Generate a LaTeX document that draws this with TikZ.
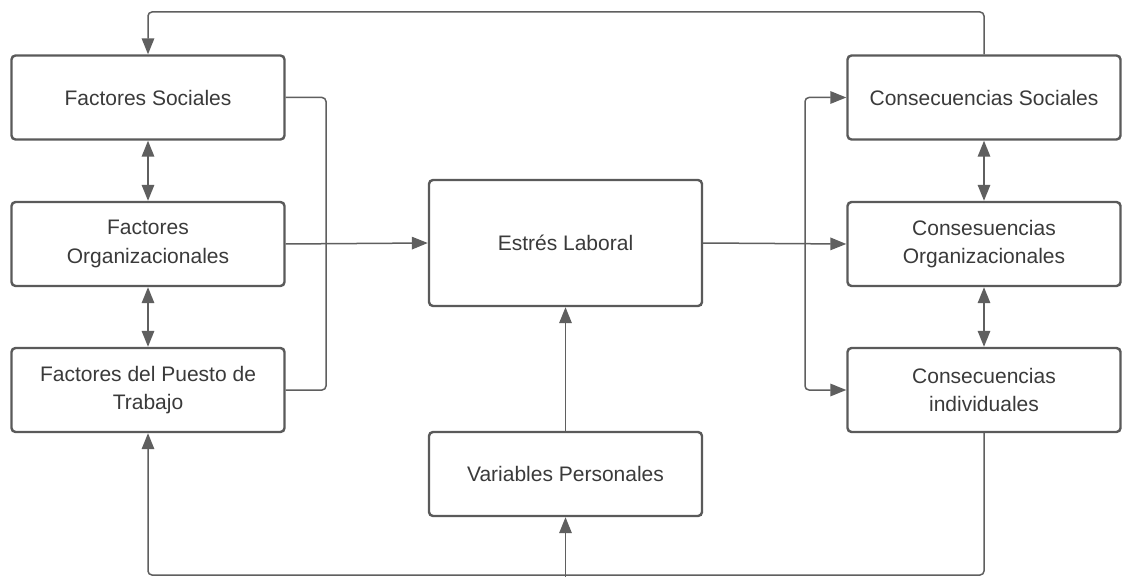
\documentclass[tikz,border=0pt]{standalone}
\usepackage{fontspec}
\setmainfont{Liberation Sans}
\usetikzlibrary{arrows.meta}
\definecolor{linegray}{HTML}{5F5F5F}
\definecolor{boxgray}{HTML}{5A5A5A}
\definecolor{txtgray}{HTML}{3A3A3A}
\begin{document}
\begin{tikzpicture}[x=1pt,y=-1pt,
  box/.style={draw=boxgray, line width=2.4pt, rounded corners=4pt, fill=white,
    minimum width=273pt, minimum height=84pt, align=center, inner sep=2pt,
    text=txtgray, font=\fontsize{21}{28.5}\selectfont},
  conn/.style={draw=linegray, line width=1.5pt, rounded corners=4pt},
  arr/.style={conn, -{Triangle[length=16pt,width=12.5pt]}},
  darr/.style={conn, {Triangle[length=16pt,width=12.5pt]}-{Triangle[length=16pt,width=12.5pt]}}]
\useasboundingbox (0,0) rectangle (1123,577);
\fill[white] (0,0) rectangle (1123,577);
\coordinate (top) at (0,12);
\coordinate (bot) at (0,575);
\coordinate (lb) at (326,0);
\coordinate (rb) at (805,0);
\coordinate (vpin) at (565.5,577);

\node[box] (fs) at (148,97.5) {Factores Sociales};
\node[box] (fo) at (148,244) {Factores\\Organizacionales};
\node[box] (fp) at (148,390) {Factores del Puesto de\\Trabajo};
\node[box, minimum height=126pt] (el) at (565.5,243) {Estrés Laboral};
\node[box] (vp) at (565.5,474) {Variables Personales};
\node[box] (cs) at (984,97.5) {Consecuencias Sociales};
\node[box] (co) at (984,244) {Consesuencias\\Organizacionales};
\node[box] (ci) at (984,390) {Consecuencias\\individuales};

% feedback loops
\draw[arr] (cs.north) -- (cs.north |- top) -- (fs.north |- top) -- (fs.north);
\draw[arr] (ci.south) -- (ci.south |- bot) -- (fp.south |- bot) -- (fp.south);
\draw[arr] (vpin) -- (vp.south);
\draw[arr] (vp.north) -- (el.south);

% left bracket
\draw[conn] (fs.east) -- (fs.east -| lb) -- (fp.east -| lb) -- (fp.east);
\draw[arr] (fo.east) -- (el.west);
\draw[arr] (el.east) -- (co.west);
% right bracket
\draw[darr] (cs.west) -- (cs.west -| rb) -- (ci.west -| rb) -- (ci.west);

% double arrows
\draw[darr] (fs.south) -- (fo.north);
\draw[darr] (fo.south) -- (fp.north);
\draw[darr] (cs.south) -- (co.north);
\draw[darr] (co.south) -- (ci.north);
\end{tikzpicture}
\end{document}
